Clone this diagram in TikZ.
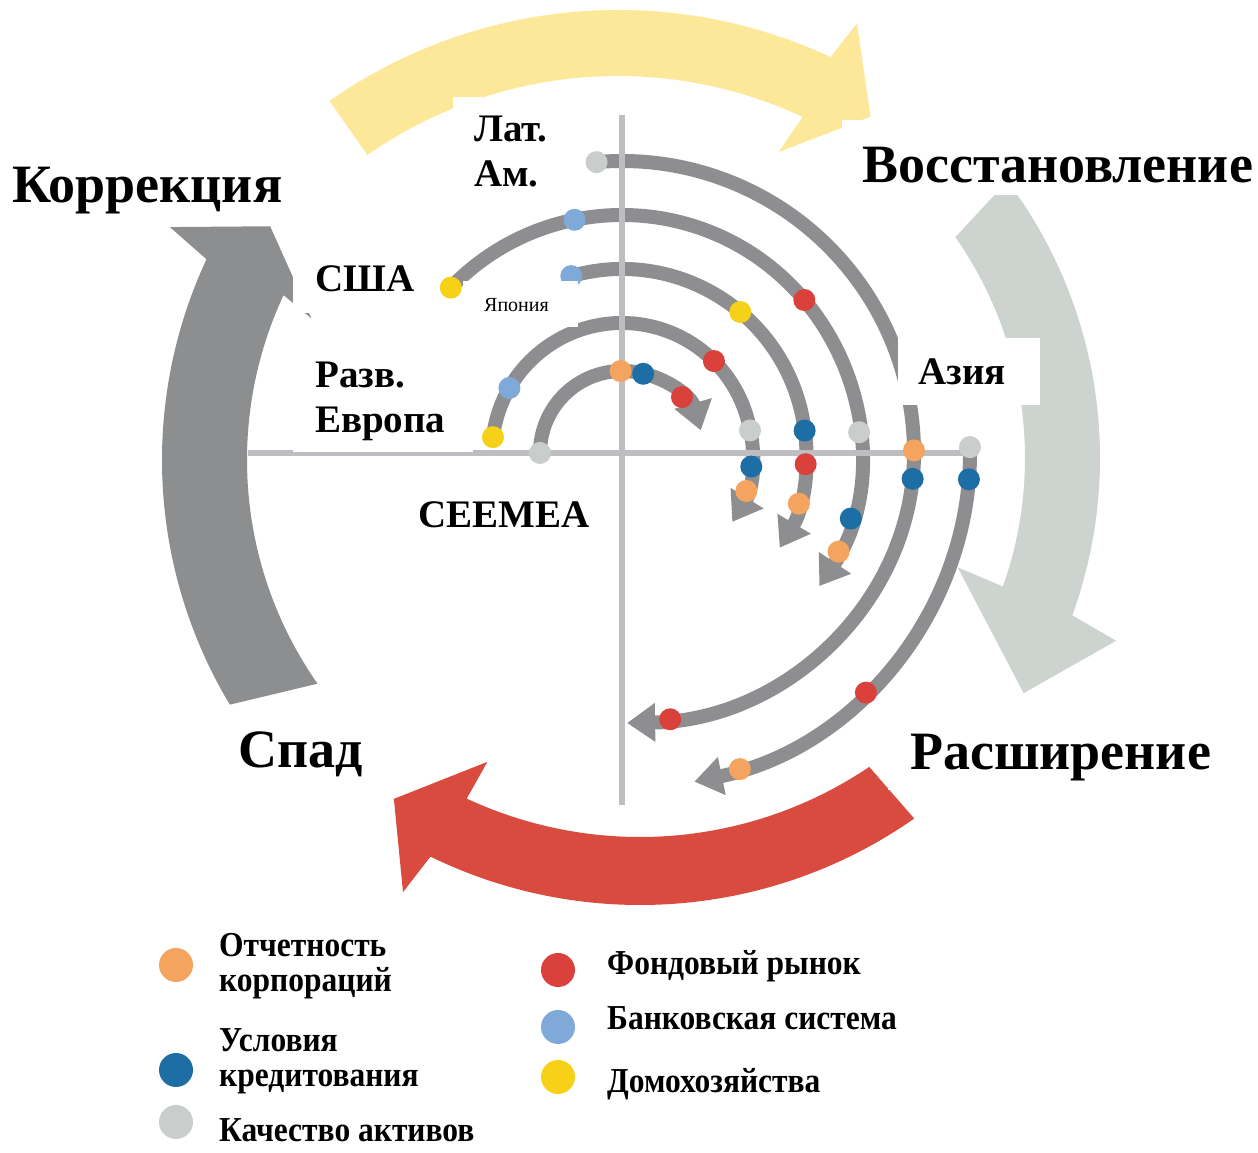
\documentclass[tikz,border=0pt]{standalone}
\usepackage{fontspec}
\setmainfont{Liberation Serif}
\newfontfamily\legendfont[FakeStretch=0.9]{Liberation Serif}
\usetikzlibrary{arrows.meta}

\definecolor{arcgrey}{HTML}{8E8E91}
\definecolor{axisgrey}{HTML}{BEBEC2}
\definecolor{sunyellow}{HTML}{FDE89A}
\definecolor{darkgrey}{HTML}{8D8E90}
\definecolor{palegrey}{HTML}{CDD3CF}
\definecolor{bigred}{HTML}{D94B3E}
\definecolor{dorange}{HTML}{F4A45E}
\definecolor{dblue}{HTML}{1E6EA6}
\definecolor{dgrey}{HTML}{C9CDCB}
\definecolor{dred}{HTML}{D9413A}
\definecolor{dlblue}{HTML}{7EA9D8}
\definecolor{dyellow}{HTML}{F7D117}

\newcommand{\mdot}[2]{\fill[#1] (#2) circle (11pt);}

\begin{document}
\begin{tikzpicture}[x=1pt, y=1pt,
    spiral/.style={arcgrey, line width=14pt, -{Triangle[width=37pt,length=28pt]}},
    axis/.style={axisgrey, line width=6pt},
    bigtxt/.style={font=\fontsize{54}{60}\selectfont\bfseries, anchor=base west, inner sep=0pt},
    regtxt/.style={font=\fontsize{39}{45}\selectfont\bfseries, anchor=base west, inner sep=0pt, align=left},
    legtxt/.style={font=\legendfont\fontsize{35}{35}\selectfont\bfseries, anchor=base west, inner sep=0pt, align=left}]

    \fill[white] (0,0) rectangle (1258,1153);
    \useasboundingbox (0,0) rectangle (1258,1153);

    % big cycle arrows
    \fill[sunyellow, shift={(618,640)}] (125:437pt) -- (125:503pt) arc[start angle=125, end angle=65, radius=503pt]
        -- (64:545pt) -- (57.5:470pt) -- (66:395pt) -- (65:437pt) arc[start angle=65, end angle=125, radius=437pt] -- cycle;
    \fill[palegrey, shift={(640,695)}] (35:385pt) -- (37:460pt) arc[start angle=37, end angle=-20, radius=460pt]
        -- (-21:510pt) -- (-31.5:450pt) -- (-19:336pt) -- (-19.5:385pt) arc[start angle=-19.5, end angle=35, radius=385pt] -- cycle;
    \fill[bigred, shift={(640,726)}] (-56:410pt) -- (-55:478pt) arc[start angle=-55, end angle=-116, radius=478pt]
        -- (-117:522pt) -- (-123.5:446pt) -- (-114.5:368pt) -- (-115:410pt) arc[start angle=-115, end angle=-56, radius=410pt] -- cycle;
    \fill[darkgrey, shift={(637,693)}] (215:390pt) -- (211:475pt) arc[start angle=211, end angle=155, radius=475pt]
        -- (153.5:522pt) -- (147.5:435pt) -- (156.5:355pt) -- (155:390pt) arc[start angle=155, end angle=215, radius=390pt] -- cycle;

    % spirals
    \begin{scope}[shift={(622,700)}]
        \draw[spiral] (180:82pt) arc[start angle=180, end angle=16, radius=82pt];
        \draw[spiral] (173:130pt) arc[start angle=173, end angle=-32, radius=130pt];
        \draw[spiral] (106:184pt) arc[start angle=106, end angle=-31, radius=184pt];
        \draw[spiral] (136:238pt) arc[start angle=136, end angle=-34, radius=238pt];
        \draw[spiral] (95:292pt) arc[start angle=95, end angle=0, radius=292pt]
            arc[start angle=0, end angle=-89, x radius=292pt, y radius=270pt];
        \draw[spiral] (1:348pt and 336pt) arc[start angle=1, end angle=-78, x radius=348pt, y radius=336pt];
    \end{scope}

    \draw[axis] (622,1038) -- (622,348);
    \draw[axis] (248,700) -- (975,700);

    \begin{scope}[shift={(622,700)}]
        \mdot{dgrey}{180:82pt} \mdot{dorange}{91:82pt} \mdot{dblue}{75:82pt} \mdot{dred}{43:82pt}
        \mdot{dyellow}{173:130pt} \mdot{dlblue}{150:130pt} \mdot{dred}{45:130pt}
        \mdot{dgrey}{10:130pt} \mdot{dblue}{-6:130pt} \mdot{dorange}{-17:130pt}
        \mdot{dlblue}{106:184pt} \mdot{dyellow}{50:184pt} \mdot{dblue}{7:184pt}
        \mdot{dred}{-3.5:184pt} \mdot{dorange}{-16:184pt}
        \mdot{dyellow}{136:238pt} \mdot{dlblue}{101.5:238pt} \mdot{dred}{40:238pt}
        \mdot{dgrey}{5:238pt} \mdot{dblue}{-16:238pt} \mdot{dorange}{-24.5:238pt}
        \mdot{dgrey}{95:292pt} \mdot{dorange}{0.5:292pt}
        \mdot{dblue}{-5.5:292pt and 270pt} \mdot{dred}{-80.5:292pt and 270pt}
        \mdot{dgrey}{1:348pt and 336pt} \mdot{dblue}{-4.5:348pt and 336pt}
        \mdot{dred}{-45.5:348pt and 336pt} \mdot{dorange}{-70.2:348pt and 336pt}
    \end{scope}

    % white label boxes
    \fill[white] (453,1056) rectangle (575,946);
    \fill[white] (293,908) rectangle (437,840);
    \fill[white] (463,872) rectangle (578,826);
    \fill[white] (293,830) rectangle (473,701);
    \fill[white] (405,675) rectangle (612,610);
    \fill[white] (898,815) rectangle (1040,748);
    \fill[white] (842,1033) rectangle (1258,958);
    \fill[white] (888,426) rectangle (1258,363);

    \node[bigtxt] (korr) at (12,950) {Коррекция};
    \node[bigtxt] (vosst) at (862,970) {Восстановление};
    \node[bigtxt] (spad) at (238,385) {Спад};
    \node[bigtxt] (rassh) at (910,383) {Расширение};

    \node[regtxt] (latam) at (474,966) {Лат.\\Ам.};
    \node[regtxt] (usa) at (315,861) {США};
    \node[regtxt, font=\fontsize{20}{24}\selectfont] (japan) at (484,841) {Япония};
    \node[regtxt] (europe) at (315,720) {Разв.\\Европа};
    \node[regtxt] (ceemea) at (418,625) {CEEMEA};
    \node[regtxt] (asia) at (918,768) {Азия};

    % legend
    \fill[dorange] (176,188) circle (17pt);
    \fill[dblue] (176,83) circle (17pt);
    \fill[dgrey] (176,31) circle (17pt);
    \fill[dred] (558,183) circle (17pt);
    \fill[dlblue] (558,126) circle (17pt);
    \fill[dyellow] (558,76) circle (17pt);

    \node[legtxt] (leg1) at (219,161) {Отчетность\\корпораций};
    \node[legtxt] (leg2) at (219,66) {Условия\\кредитования};
    \node[legtxt] (leg3) at (219,11) {Качество активов};
    \node[legtxt] (leg4) at (607,178) {Фондовый рынок};
    \node[legtxt] (leg5) at (607,123) {Банковская система};
    \node[legtxt] (leg6) at (607,60) {Домохозяйства};
\end{tikzpicture}
\end{document}
